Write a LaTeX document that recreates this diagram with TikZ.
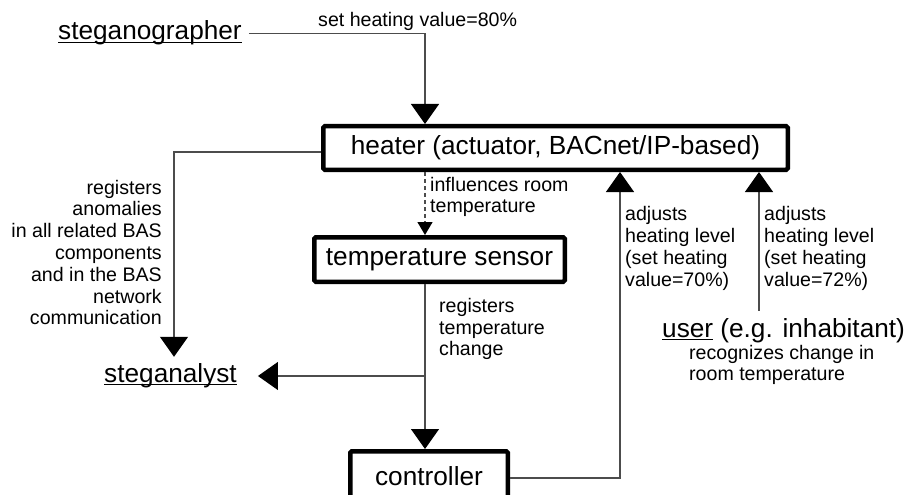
\documentclass[tikz,border=0pt]{standalone}
\usepackage{fontspec}
\setmainfont{Liberation Sans}
\usetikzlibrary{arrows.meta}
\newcommand{\ulword}[1]{\setbox0=\hbox{#1}\rlap{\rule[-0.12em]{\wd0}{0.06em}}\box0\relax}
\begin{document}
\begin{tikzpicture}[x=1pt,y=-1pt,
  box/.style={draw, line width=4.5pt, rounded corners=1.5pt, fill=white, inner sep=0pt, font=\fontsize{26.2}{30}\selectfont},
  big/.style={font=\fontsize{26.2}{30}\selectfont, inner sep=0pt},
  lab/.style={font=\fontsize{19.6}{21.8}\selectfont, inner sep=0pt},
  labt/.style={font=\fontsize{19.6}{20.2}\selectfont, inner sep=0pt},
  conn/.style={draw=black!70, line width=1.2pt},
  bigarrow/.style={-{Triangle[width=28pt,length=20pt,color=black]}},
  smallarrow/.style={-{Triangle[width=15pt,length=13pt,color=black]}}]
\useasboundingbox (0,0) rectangle (906,495);
% boxes
\node[box, minimum width=464.5pt, minimum height=43.5pt] (heater) at (555.5,148) {heater (actuator, BACnet/IP-based)};
\node[box, minimum width=250.5pt, minimum height=44.5pt] (ts) at (439.5,259.5) {temperature sensor};
\node[box, minimum width=157.5pt, minimum height=48.5pt, text height=21pt, text depth=2pt] (ctrl) at (429,475.5) {controller};
% actors
\node[big, inner xsep=7pt, inner ysep=0pt, anchor=base west] (sg) at (51,40) {\ulword{steganographer}};
\node[big, inner xsep=21pt, inner ysep=7pt, text height=18pt, text depth=6pt] (sa) at (170.5,376) {\ulword{steganalyst}};
\node[big, anchor=base west, inner xsep=0pt, inner ysep=6pt, text height=20pt, text depth=6pt] (user) at (662,337) {\ulword{user} (e.g. inhabitant)};
% labels
\node[lab, anchor=base west] (lset) at (318,27) {set heating value=80\%};
\node[lab, anchor=east, align=right] (lreg) at (162,252.5) {registers\\anomalies\\in all related BAS\\components\\and in the BAS\\network\\communication};
\node[labt, anchor=west, align=left] (linf) at (430,197) {influences room\\temperature};
\node[lab, anchor=west, align=left] (lrtc) at (439,329) {registers\\temperature\\change};
\node[lab, anchor=west, align=left] (la1) at (625,248.5) {adjusts\\heating level\\(set heating\\value=70\%)};
\node[lab, anchor=west, align=left] (la2) at (764,248.5) {adjusts\\heating level\\(set heating\\value=72\%)};
\node[labt, anchor=west, align=left] (lrec) at (689,365) {recognizes change in\\room temperature};
% coordinates for line x positions
\coordinate (xa) at (425,0);
\coordinate (xc) at (620,0);
\coordinate (xu) at (759,0);
\coordinate (xl) at (174,0);
\coordinate (yc) at (0,478);
% connectors
\draw[conn, bigarrow] (sg.east) -- (sg.east -| xa) -- (heater.north -| xa);
\draw[conn, dash pattern=on 4pt off 3pt, smallarrow] (heater.south -| xa) -- (ts.north -| xa);
\draw[conn, bigarrow] (ts.south -| xa) -- (ctrl.north -| xa);
\draw[conn, bigarrow] (sa.east -| xa) -- (sa.east);
\draw[conn, bigarrow] ([yshift=-4pt]heater.west) -| (sa.north -| xl);
\draw[conn, bigarrow] (ctrl.east |- yc) -| (heater.south -| xc);
\draw[conn, bigarrow] (user.north -| xu) -- (heater.south -| xu);
\end{tikzpicture}
\end{document}
